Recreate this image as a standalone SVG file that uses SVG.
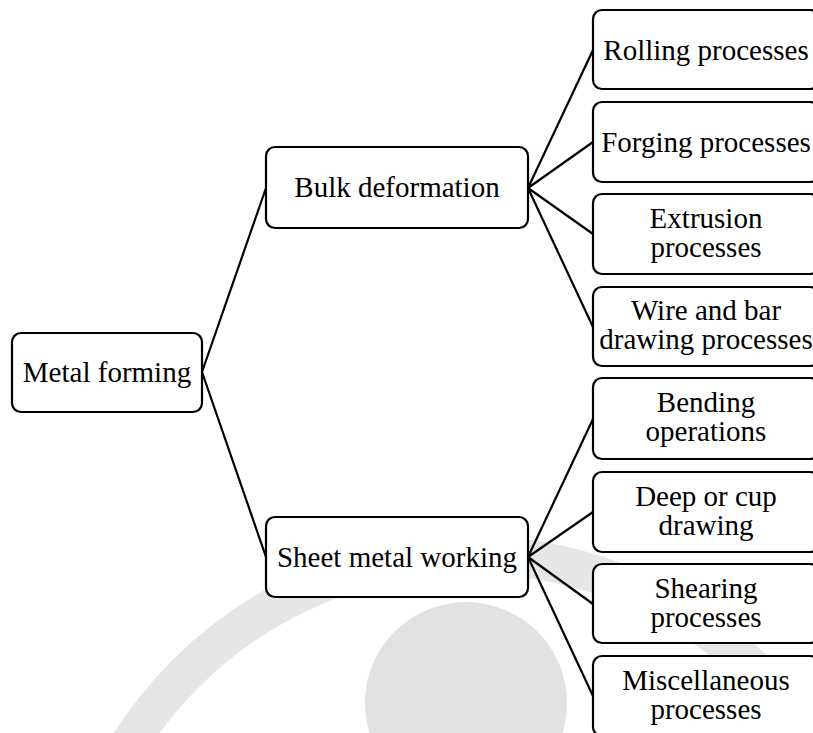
<svg xmlns="http://www.w3.org/2000/svg" width="813" height="733" viewBox="0 0 813 733">
  <style>
    .box { fill: #ffffff; stroke: #000000; stroke-width: 2.2; }
    .lbl { font-size: 29px; fill: #000000; text-anchor: middle; }
    .wire { stroke: #000000; stroke-width: 2.2; fill: none; stroke-linecap: round; }
    .mark { fill: #e2e2e2; }
  </style>

  <rect width="813" height="733" fill="#ffffff"/>

  <!-- faint background emblem -->
  <g id="emblem">
    <circle cx="472" cy="960" r="405" fill="none" stroke="#e6e6e6" stroke-width="38"/>
    <circle class="mark" cx="466" cy="703" r="101"/>
  </g>

  <!-- connectors -->
  <g id="connectors">
    <path class="wire" d="M202,372 L266,188 M202,372 L266,557"/>
    <path class="wire" d="M528,188 L593,50 M528,188 L593,142 M528,188 L593,234 M528,188 L593,327"/>
    <path class="wire" d="M528,557 L593,419 M528,557 L593,512 M528,557 L593,604 M528,557 L593,696"/>
  </g>

  <g font-family="Liberation Serif, DejaVu Serif, serif">
  <g id="metal-forming">
    <rect class="box" x="12" y="333" width="190" height="79" rx="9"/>
    <text class="lbl" x="107" y="382">Metal forming</text>
  </g>

  <g id="bulk-deformation">
    <rect class="box" x="266" y="147" width="262" height="81" rx="9"/>
    <text class="lbl" x="397" y="197">Bulk deformation</text>
  </g>

  <g id="sheet-metal-working">
    <rect class="box" x="266" y="517" width="262" height="80" rx="9"/>
    <text class="lbl" x="397" y="567">Sheet metal working</text>
  </g>

  <g id="rolling">
    <rect class="box" x="593" y="10" width="226" height="79" rx="9"/>
    <text class="lbl" x="706" y="60">Rolling processes</text>
  </g>

  <g id="forging">
    <rect class="box" x="593" y="102" width="226" height="80" rx="9"/>
    <text class="lbl" x="706" y="152">Forging processes</text>
  </g>

  <g id="extrusion">
    <rect class="box" x="593" y="194" width="226" height="80" rx="9"/>
    <text class="lbl" x="706" y="228">Extrusion</text>
    <text class="lbl" x="706" y="257">processes</text>
  </g>

  <g id="wire-bar-drawing">
    <rect class="box" x="593" y="287" width="226" height="79" rx="9"/>
    <text class="lbl" x="706" y="320">Wire and bar</text>
    <text class="lbl" x="706" y="349">drawing processes</text>
  </g>

  <g id="bending">
    <rect class="box" x="593" y="378" width="226" height="81" rx="9"/>
    <text class="lbl" x="706" y="412">Bending</text>
    <text class="lbl" x="706" y="441">operations</text>
  </g>

  <g id="deep-drawing">
    <rect class="box" x="593" y="472" width="226" height="80" rx="9"/>
    <text class="lbl" x="706" y="506">Deep or cup</text>
    <text class="lbl" x="706" y="535">drawing</text>
  </g>

  <g id="shearing">
    <rect class="box" x="593" y="564" width="226" height="79" rx="9"/>
    <text class="lbl" x="706" y="598">Shearing</text>
    <text class="lbl" x="706" y="627">processes</text>
  </g>

  <g id="miscellaneous">
    <rect class="box" x="593" y="656" width="226" height="80" rx="9"/>
    <text class="lbl" x="706" y="690">Miscellaneous</text>
    <text class="lbl" x="706" y="719">processes</text>
  </g>
  </g>
</svg>
